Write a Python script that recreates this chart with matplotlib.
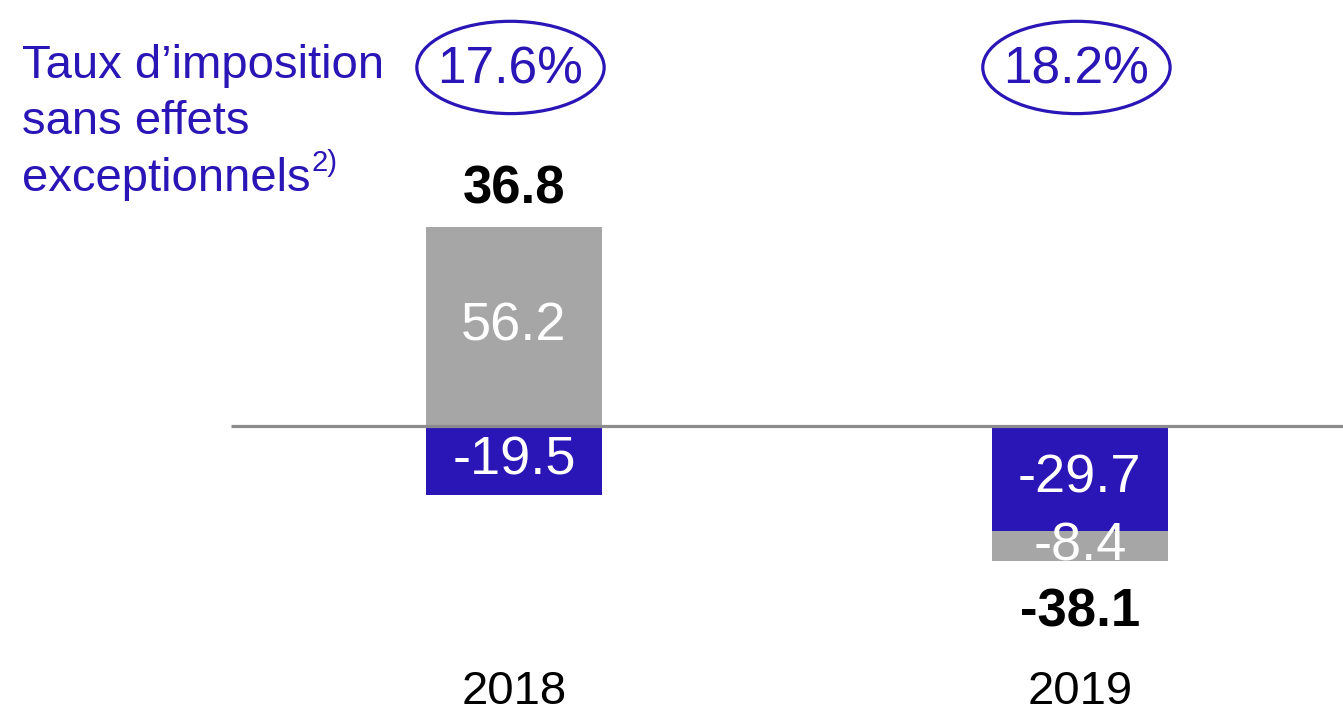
import matplotlib.pyplot as plt
from matplotlib.patches import Ellipse

plt.rcParams["font.family"] = ["Liberation Sans", "DejaVu Sans"]

years = ["2018", "2019"]
blue_vals = [-19.5, -29.7]
gray_vals = [56.2, -8.4]
totals = [36.8, -38.1]
tax_rates = ["17.6%", "18.2%"]

BLUE = "#2A15B6"
GRAY = "#A6A6A6"

fig = plt.figure(figsize=(13.43, 7.14), dpi=100)
ax = fig.add_axes([0, 54 / 714, 1, 660 / 714])
x = list(range(len(years)))
w = 0.31

# gray segment sits below blue when both negative, else from zero
gray_bottom = [b if g < 0 else 0 for g, b in zip(gray_vals, blue_vals)]
ax.bar(x, blue_vals, width=w, color=BLUE, zorder=2)
ax.bar(x, gray_vals, width=w, bottom=gray_bottom, color=GRAY, zorder=2)
ax.plot([-0.5, 1.5], [0, 0], color="#8C8C8C", lw=2.3, zorder=3, solid_capstyle="butt")

for i in x:
    ax.text(i, blue_vals[i] / 2, f"{blue_vals[i]:.1f}", ha="center", va="center",
            color="white", fontsize=39, zorder=4)
    gy = gray_bottom[i] + gray_vals[i] / 2
    ax.text(i, gy, f"{gray_vals[i]:.1f}", ha="center", va="center",
            color="white", fontsize=39, zorder=4)
    if totals[i] > 0:
        top = gray_bottom[i] + gray_vals[i]
        ax.annotate(f"{totals[i]:.1f}", (i, top), xytext=(0, 9), textcoords="offset points",
                    ha="center", va="bottom", fontsize=38, fontweight="bold")
    else:
        bot = min(blue_vals[i], gray_bottom[i] + gray_vals[i])
        ax.annotate(f"{totals[i]:.1f}", (i, bot), xytext=(0, -19), textcoords="offset points",
                    ha="center", va="top", fontsize=38, fontweight="bold")
    ax.add_patch(Ellipse((i - 0.006, 101), 0.331, 26, fill=False, ec=BLUE, lw=2.3))
    ax.text(i - 0.006, 100.3, tax_rates[i], ha="center", va="center", color=BLUE, fontsize=37)

ax.set_xlim(-0.908, 1.465)
ax.set_ylim(-65.9, 120)
ax.set_xticks(x, years, fontsize=34)
ax.tick_params(axis="x", length=0, pad=7)
ax.set_yticks([])
for s in ax.spines.values():
    s.set_visible(False)

left = -0.870
ax.text(left, 101.4, "Taux d’imposition", color=BLUE, fontsize=34, va="center")
ax.text(left, 85.7, "sans effets", color=BLUE, fontsize=34, va="center")
t = ax.text(left, 69.6, "exceptionnels", color=BLUE, fontsize=34, va="center")
ax.annotate("2)", xy=(1, 0.55), xycoords=t, xytext=(1, 0), textcoords="offset points",
            color=BLUE, fontsize=21, va="bottom", ha="left")

fig.savefig("out.png", dpi=100)
